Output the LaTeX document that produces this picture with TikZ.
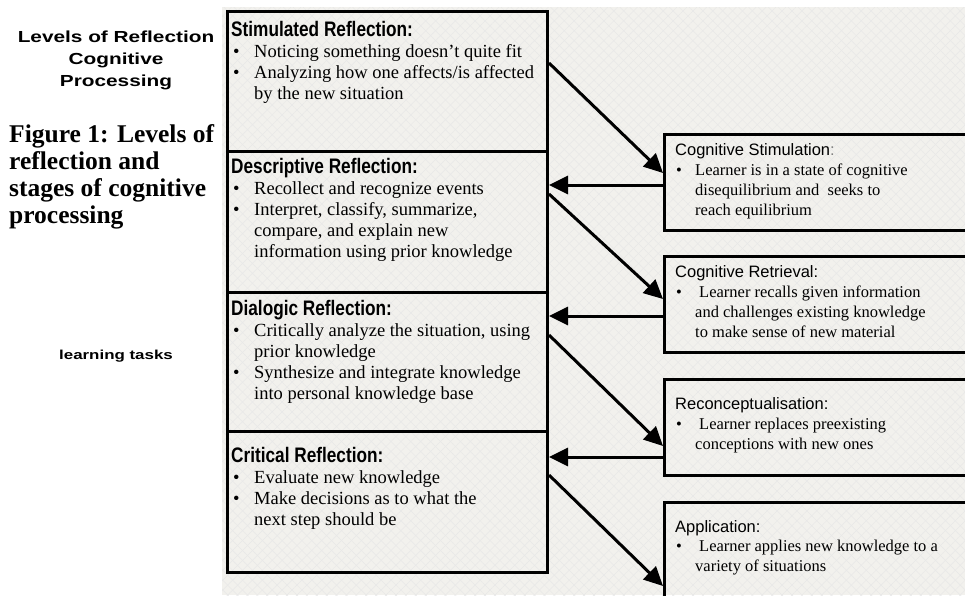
\documentclass[tikz,border=0pt]{standalone}
\usepackage{fontspec}
\usepackage{xcolor}
\setmainfont{Liberation Serif}
\newfontfamily\lvlfont{Liberation Sans}[FakeStretch=0.82]
\newfontfamily\stgfont{Liberation Sans}
\newfontfamily\ttlfont{Liberation Sans}[FakeStretch=1.3]
\usetikzlibrary{arrows.meta,patterns.meta}

\definecolor{bgfill}{RGB}{242,241,237}
\newcommand{\lvlhd}{\lvlfont\bfseries\fontsize{21}{21}\selectfont}
\newcommand{\stghd}{\stgfont\fontsize{16.5}{20}\selectfont}

\begin{document}
\begin{tikzpicture}[x=1pt,y=-1pt,
    level/.style={draw,line width=3pt,rectangle,inner sep=0pt,anchor=north west,minimum width=320pt},
    stage/.style={draw,line width=3pt,rectangle,inner sep=0pt,anchor=north west,minimum width=312pt,minimum height=96pt},
    lvltxt/.style={inner sep=0pt,anchor=base west,font=\fontsize{18.5}{21}\selectfont},
    stgtxt/.style={inner sep=0pt,anchor=base west,font=\fontsize{16.5}{20.3}\selectfont},
    ttl/.style={inner sep=0pt,anchor=base,font=\ttlfont\bfseries\fontsize{16}{22}\selectfont},
    link/.style={line width=3pt,-{Triangle[length=19pt,width=18pt]}}]
  \useasboundingbox (0,0) rectangle (965,595);
  \clip (0,0) rectangle (965,595);
  \fill[white] (0,0) rectangle (965,595);
  % textured backdrop
  \fill[bgfill] (222,7) rectangle (965,595);
  \fill[pattern={Lines[angle=45,distance=7pt,line width=0.5pt]},pattern color=black!9] (222,7) rectangle (965,595);
  \fill[pattern={Lines[angle=-45,distance=7pt,line width=0.5pt]},pattern color=black!9] (222,7) rectangle (965,595);

  % side labels
  \node[ttl] (title) at (116,42) {\begin{tabular}[t]{@{}c@{}}Levels of Reflection\\Cognitive\\Processing\end{tabular}};
  \node[inner sep=0pt,anchor=base west,font=\bfseries\fontsize{25.5}{27}\selectfont] (caption) at (9,142)
    {\begin{tabular}[t]{@{}l@{}}Figure 1: Levels of\\reflection and\\stages of cognitive\\processing\end{tabular}};
  \node[ttl,font=\ttlfont\bfseries\fontsize{13}{16}\selectfont] (tasks) at (116,359) {learning tasks};

  % levels of reflection
  \node[level,minimum height=140pt] (stim) at (226,10) {};
  \node[level,minimum height=141pt] (desc) at (226,150) {};
  \node[level,minimum height=139pt] (dial) at (226,291) {};
  \node[level,minimum height=141pt] (crit) at (226,430) {};

  \node[lvltxt] (stimtxt) at (231,36) {\begin{tabular}[t]{@{}p{23pt}@{}l@{}}
    \multicolumn{2}{@{}l@{}}{\lvlhd Stimulated Reflection:}\\
    \hspace{2pt}\textbullet & Noticing something doesn’t quite fit\\
    \hspace{2pt}\textbullet & Analyzing how one affects/is affected\\
    & by the new situation
  \end{tabular}};
  \node[lvltxt] (desctxt) at (231,173) {\begin{tabular}[t]{@{}p{23pt}@{}l@{}}
    \multicolumn{2}{@{}l@{}}{\lvlhd Descriptive Reflection:}\\
    \hspace{2pt}\textbullet & Recollect and recognize events\\
    \hspace{2pt}\textbullet & Interpret, classify, summarize,\\
    & compare, and explain new\\
    & information using prior knowledge
  \end{tabular}};
  \node[lvltxt] (dialtxt) at (231,315) {\begin{tabular}[t]{@{}p{23pt}@{}l@{}}
    \multicolumn{2}{@{}l@{}}{\lvlhd Dialogic Reflection:}\\
    \hspace{2pt}\textbullet & Critically analyze the situation, using\\
    & prior knowledge\\
    \hspace{2pt}\textbullet & Synthesize and integrate knowledge\\
    & into personal knowledge base
  \end{tabular}};
  \node[lvltxt] (crittxt) at (231,462) {\begin{tabular}[t]{@{}p{23pt}@{}l@{}}
    \multicolumn{2}{@{}l@{}}{\lvlhd Critical Reflection:}\\
    \hspace{2pt}\textbullet & Evaluate new knowledge\\
    \hspace{2pt}\textbullet & Make decisions as to what the\\
    & next step should be
  \end{tabular}};

  % stages of cognitive processing
  \node[stage] (cstim) at (663,133) {};
  \node[stage] (cretr) at (663,255) {};
  \node[stage] (recon) at (663,378) {};
  \node[stage,minimum height=100pt] (appl) at (663,501) {};

  \node[stgtxt] (cstimtxt) at (675,155) {\begin{tabular}[t]{@{}p{20pt}@{}l@{}}
    \multicolumn{2}{@{}l@{}}{\stghd Cognitive Stimulation\textcolor{gray}{:}}\\
    \hspace{1pt}\textbullet & Learner is in a state of cognitive\\
    & disequilibrium and\ \ seeks to\\
    & reach equilibrium
  \end{tabular}};
  \node[stgtxt] (cretrtxt) at (675,277) {\begin{tabular}[t]{@{}p{20pt}@{}l@{}}
    \multicolumn{2}{@{}l@{}}{\stghd Cognitive Retrieval:}\\
    \hspace{1pt}\textbullet & \hspace{4pt}Learner recalls given information\\
    & and challenges existing knowledge\\
    & to make sense of new material
  \end{tabular}};
  \node[stgtxt] (recontxt) at (675,409) {\begin{tabular}[t]{@{}p{20pt}@{}l@{}}
    \multicolumn{2}{@{}l@{}}{\stghd Reconceptualisation:}\\
    \hspace{1pt}\textbullet & \hspace{4pt}Learner replaces preexisting\\
    & conceptions with new ones
  \end{tabular}};
  \node[stgtxt,font=\fontsize{16.5}{19.5}\selectfont] (appltxt) at (675,532) {\begin{tabular}[t]{@{}p{20pt}@{}l@{}}
    \multicolumn{2}{@{}l@{}}{\stghd Application:}\\
    \hspace{1pt}\textbullet & \hspace{4pt}Learner applies new knowledge to a\\
    & variety of situations
  \end{tabular}};

  % arrows
  \draw[link] ([yshift=-53pt]stim.north east) -- ([yshift=-40pt]cstim.north west);
  \draw[link] ([yshift=-52pt]cstim.north west) -- ([yshift=-35pt]desc.north east);
  \draw[link] ([yshift=-44pt]desc.north east) -- ([yshift=-44pt]cretr.north west);
  \draw[link] ([yshift=-61pt]cretr.north west) -- ([yshift=-25pt]dial.north east);
  \draw[link] ([yshift=-44pt]dial.north east) -- ([yshift=-68pt]recon.north west);
  \draw[link] ([yshift=-79pt]recon.north west) -- ([yshift=-27pt]crit.north east);
  \draw[link] ([yshift=-45pt]crit.north east) -- ([yshift=-85pt]appl.north west);
\end{tikzpicture}
\end{document}
